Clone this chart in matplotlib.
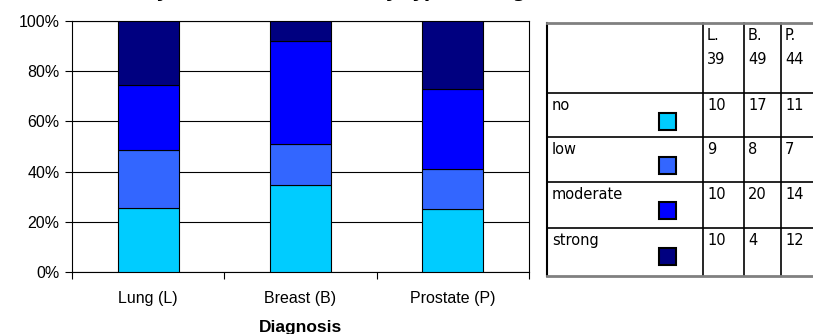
import numpy as np
import matplotlib.pyplot as plt
from matplotlib.patches import Rectangle

# counts of staining intensity per diagnosis
diagnoses = ['Lung (L)', 'Breast (B)', 'Prostate (P)']
short_names = ['L.', 'B.', 'P.']
levels = ['no', 'low', 'moderate', 'strong']
level_colors = ['#00CCFF', '#3366FF', '#0000FF', '#000080']
no_counts = [10, 17, 11]
low_counts = [9, 8, 7]
moderate_counts = [10, 20, 14]
strong_counts = [10, 4, 12]

counts = np.array([no_counts, low_counts, moderate_counts, strong_counts], dtype=float)
totals = counts.sum(axis=0)
shares = counts / totals * 100

W, H = 813, 334
fig = plt.figure(figsize=(W / 100, H / 100), dpi=100)

ax = fig.add_axes([72 / W, (H - 272) / H, (529 - 72) / W, (272 - 21) / H])
x = np.arange(len(diagnoses))
bottom = np.zeros(len(diagnoses))
for i, lev in enumerate(levels):
    ax.bar(x, shares[i], 0.4, bottom=bottom, color=level_colors[i],
           edgecolor='black', linewidth=0.8, zorder=3)
    bottom += shares[i]

ax.set_xlim(-0.5, 2.5)
ax.set_ylim(0, 100)
ax.set_yticks(np.arange(0, 101, 20))
ax.set_yticklabels([f'{v}%' for v in range(0, 101, 20)],
                   fontfamily='Liberation Sans', fontsize=11.5)
ax.yaxis.grid(True, color='black', linewidth=0.8, zorder=0)
ax.set_xticks(x)
ax.set_xticklabels(diagnoses, fontfamily='Liberation Sans', fontsize=11.5)
ax.tick_params(axis='x', length=0, pad=14)
ax.tick_params(axis='y', length=5, width=0.8, pad=4)
# category separator ticks on the x axis
ax.set_xticks([-0.5, 0.5, 1.5, 2.5], minor=True)
ax.tick_params(axis='x', which='minor', length=5, width=0.8, direction='out')
for s in ax.spines.values():
    s.set_linewidth(0.8)
ax.set_xlabel('Diagnosis', fontfamily='Liberation Sans', fontweight='bold',
              fontsize=12.5, labelpad=10)

fig.text(79 / W, (H + 3) / H, 'Intensity of immunoreaction by type of diagnosis',
         fontsize=13, fontweight='bold', fontstyle='italic', ha='left', va='baseline')

# data table with legend keys
tx = fig.add_axes([0, 0, 1, 1])
tx.set_xlim(0, W)
tx.set_ylim(H, 0)
tx.axis('off')

col_x = [547, 703, 744, 781, 830]
row_y = [23, 93, 137, 182, 228, 276]
fs = 10.5
font = 'DejaVu Sans'

for yy in row_y[1:-1]:
    tx.plot([col_x[0], W], [yy, yy], color='black', lw=1.2)
for xx in col_x[1:4]:
    tx.plot([xx, xx], [row_y[0], row_y[-1]], color='black', lw=1.2)
tx.plot([col_x[0], col_x[0]], [row_y[0], row_y[-1]], color='black', lw=1.5)
tx.plot([col_x[0], W], [row_y[0], row_y[0]], color='#808080', lw=2)
tx.plot([col_x[0], W], [row_y[-1], row_y[-1]], color='#808080', lw=2)

for j, name in enumerate(short_names):
    tx.text(col_x[j + 1] + 4, row_y[0] + 5, name,
            fontfamily=font, fontsize=fs, va='top', ha='left')
    tx.text(col_x[j + 1] + 4, row_y[0] + 29, f'{int(totals[j])}',
            fontfamily=font, fontsize=fs, va='top', ha='left')

for i, lev in enumerate(levels):
    top = row_y[i + 1]
    tx.text(col_x[0] + 5, top + 5, lev, fontfamily=font, fontsize=fs,
            va='top', ha='left')
    tx.add_patch(Rectangle((659, top + 20), 17, 17, facecolor=level_colors[i],
                           edgecolor='black', lw=1.5))
    for j in range(len(diagnoses)):
        tx.text(col_x[j + 1] + 4, top + 5, f'{int(counts[i, j])}',
                fontfamily=font, fontsize=fs, va='top', ha='left')

fig.savefig('out.png', dpi=100)
